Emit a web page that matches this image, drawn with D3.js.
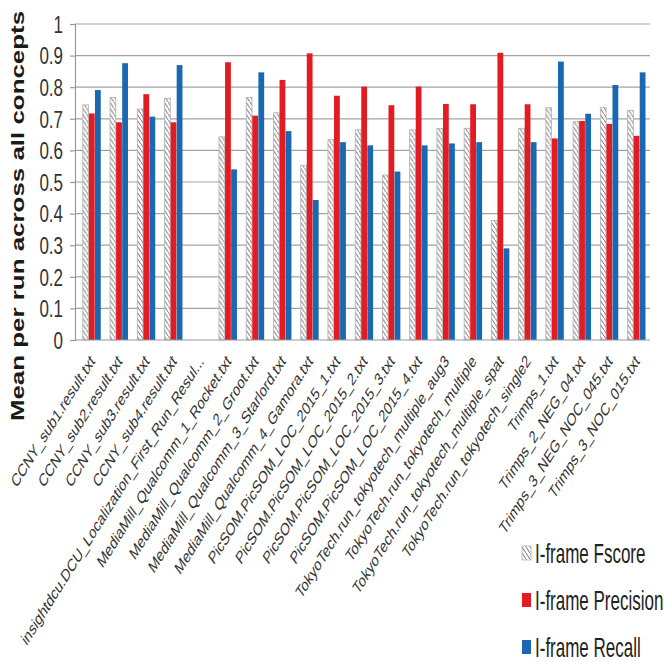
<!DOCTYPE html>
<html>
<head>
<meta charset="utf-8">
<script src="https://cdn.jsdelivr.net/npm/d3@7"></script>
<style>
  html, body { margin: 0; padding: 0; background: #ffffff; }
  svg { display: block; }
</style>
</head>
<body>
<svg id="chart" width="665" height="662"></svg>
<script>
const categories = [
  "CCNY_sub1.result.txt",
  "CCNY_sub2.result.txt",
  "CCNY_sub3.result.txt",
  "CCNY_sub4.result.txt",
  "insightdcu.DCU_Localization_First_Run_Resul...",
  "MediaMill_Qualcomm_1_Rocket.txt",
  "MediaMill_Qualcomm_2_Groot.txt",
  "MediaMill_Qualcomm_3_Starlord.txt",
  "MediaMill_Qualcomm_4_Gamora.txt",
  "PicSOM.PicSOM_LOC_2015_1.txt",
  "PicSOM.PicSOM_LOC_2015_2.txt",
  "PicSOM.PicSOM_LOC_2015_3.txt",
  "PicSOM.PicSOM_LOC_2015_4.txt",
  "TokyoTech.run_tokyotech_multiple_aug3",
  "TokyoTech.run_tokyotech_multiple",
  "TokyoTech.run_tokyotech_multiple_spat",
  "TokyoTech.run_tokyotech_single2",
  "Trimps_1.txt",
  "Trimps_2_NEG_04.txt",
  "Trimps_3_NEG_NOC_045.txt",
  "Trimps_3_NOC_015.txt"
];
const fscore    = [0.744, 0.768, 0.731, 0.765, 0, 0.643, 0.767, 0.719, 0.553, 0.634, 0.665, 0.522, 0.665, 0.669, 0.670, 0.378, 0.670, 0.735, 0.691, 0.735, 0.727];
const precision = [0.717, 0.689, 0.778, 0.689, 0, 0.879, 0.710, 0.823, 0.907, 0.773, 0.802, 0.743, 0.802, 0.747, 0.746, 0.909, 0.746, 0.638, 0.693, 0.684, 0.646];
const recall    = [0.791, 0.876, 0.707, 0.870, 0, 0.540, 0.847, 0.661, 0.443, 0.626, 0.616, 0.533, 0.616, 0.622, 0.626, 0.290, 0.626, 0.881, 0.716, 0.807, 0.847];
const seriesNames = ["I-frame Fscore", "I-frame Precision", "I-frame Recall"];
const yTicks = [0, 0.1, 0.2, 0.3, 0.4, 0.5, 0.6, 0.7, 0.8, 0.9, 1];
const yTitle = "Mean per run across all concepts";

const svg = d3.select("#chart");
const STRETCH = 1.44;
const axisX = 75, plotRight = 650;

const x = d3.scaleBand().domain(categories).range([78, 650]).paddingInner(0.33).paddingOuter(0.165);
const y = d3.scaleLinear().domain([0, 1]).range([340, 24]);
const x1 = d3.scaleBand().domain(seriesNames).range([0, x.bandwidth()]);

// hatch pattern
const defs = svg.append("defs");
const pat = defs.append("pattern").attr("id", "hatch")
  .attr("patternUnits", "userSpaceOnUse").attr("width", 4).attr("height", 6);
pat.append("rect").attr("width", 4).attr("height", 6).attr("fill", "#ffffff");
pat.append("path").attr("d", "M-1,-1.5 L5,7.5 M3,-7.5 L9,1.5 M-5,4.5 L1,13.5")
  .attr("stroke", "#8c8c8c").attr("stroke-width", 1.1);

const fills = { "I-frame Fscore": "url(#hatch)", "I-frame Precision": "#e31b23", "I-frame Recall": "#1a67b2" };
const strokes = { "I-frame Fscore": "#b0b0b0", "I-frame Precision": "none", "I-frame Recall": "none" };

// gridlines
svg.append("g").selectAll("line").data(yTicks.filter(d => d > 0)).join("line")
  .attr("x1", axisX).attr("x2", plotRight)
  .attr("y1", d => y(d)).attr("y2", d => y(d))
  .attr("stroke", "#a3a3a3").attr("stroke-width", 1.2);

// y axis with ticks
const yAxis = d3.axisLeft(y).tickValues(yTicks).tickSize(5).tickFormat("");
const ga = svg.append("g").attr("transform", `translate(${axisX},0)`).call(yAxis);
ga.selectAll("path,line").attr("stroke", "#9a9a9a").attr("stroke-width", 1.2);

// y tick labels
svg.append("g").selectAll("text").data(yTicks).join("text")
  .attr("transform", d => `translate(63,${y(d)}) scale(1,${STRETCH})`)
  .attr("text-anchor", "end").attr("dy", "0.36em")
  .style("font-family", "Liberation Sans, Arial, sans-serif").style("font-size", "17px")
  .attr("fill", "#333")
  .text(d => d3.format("")(d));

// bars
const rows = categories.map((c, i) => ({ cat: c, vals: [fscore[i], precision[i], recall[i]] }));
const groups = svg.append("g").selectAll("g").data(rows).join("g")
  .attr("transform", d => `translate(${x(d.cat)},0)`);
groups.selectAll("rect").data(d => d.vals.map((v, j) => ({ key: seriesNames[j], v }))).join("rect")
  .attr("x", d => x1(d.key) + 0.3)
  .attr("width", x1.bandwidth() - 0.3)
  .attr("y", d => y(d.v))
  .attr("height", d => y(0) - y(d.v))
  .attr("fill", d => fills[d.key])
  .attr("stroke", d => d.v > 0 ? strokes[d.key] : "none")
  .attr("stroke-width", 0.8);

// x axis line
svg.append("line").attr("x1", axisX).attr("x2", plotRight).attr("y1", y(0)).attr("y2", y(0))
  .attr("stroke", "#9a9a9a").attr("stroke-width", 1.2);

// x labels
svg.append("g").selectAll("text").data(categories).join("text")
  .attr("transform", d => `translate(${x(d) + x.bandwidth() / 2 + 4},362) scale(1,${STRETCH}) rotate(-48)`)
  .attr("text-anchor", "end")
  .style("font-family", "Liberation Sans, Arial, sans-serif").style("font-size", "12.3px")
  .attr("fill", "#333")
  .text(d => d);

// y title
svg.append("text")
  .attr("transform", `translate(17.5,216) scale(1,${STRETCH}) rotate(-90)`)
  .attr("text-anchor", "middle").attr("dy", "0.36em")
  .style("font-family", "Liberation Sans, Arial, sans-serif").style("font-size", "18px").style("font-weight", "bold")
  .attr("fill", "#1a1a1a")
  .text(yTitle);

// legend
const lg = svg.append("g").selectAll("g").data(seriesNames).join("g")
  .attr("transform", (d, i) => `translate(522,${553 + i * 47})`);
lg.append("rect").attr("x", 0).attr("y", -7).attr("width", 9).attr("height", 14)
  .attr("fill", d => fills[d]).attr("stroke", d => strokes[d]).attr("stroke-width", 0.8);
lg.append("text")
  .attr("transform", `translate(13,0) scale(1,1.6)`)
  .attr("dy", "0.36em")
  .style("font-family", "Liberation Sans, Arial, sans-serif").style("font-size", "17px")
  .attr("fill", "#222")
  .text(d => d);
</script>
</body>
</html>
